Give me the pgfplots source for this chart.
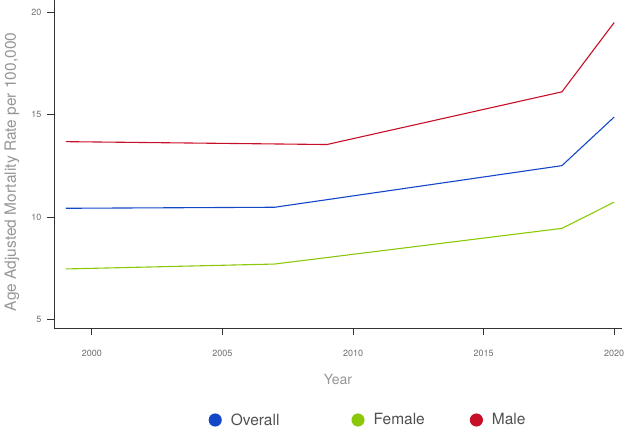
\documentclass[border=0pt]{standalone}
\usepackage{pgfplots}
\pgfplotsset{compat=1.18}
\usepackage{fontspec}
\setmainfont{TeX Gyre Heros}
\definecolor{cOverall}{RGB}{20,70,200}
\definecolor{cFemale}{RGB}{140,200,10}
\definecolor{cMale}{RGB}{200,15,40}
\definecolor{tickgray}{RGB}{110,110,110}
\definecolor{labgray}{RGB}{150,150,150}
\definecolor{leggray}{RGB}{80,80,80}
\begin{document}
\begin{tikzpicture}[x=1pt,y=1pt]
\useasboundingbox (-54,-100) rectangle (575,328);
\begin{axis}[
  scale only axis,
  width=568pt, height=328pt,
  xmin=1998.55, xmax=2020.3,
  ymin=4.6, ymax=20.6,
  axis x line*=bottom, axis y line*=left,
  axis line style={draw=black!80, line width=0.8pt},
  xtick={2000,2005,2010,2015,2020},
  ytick={5,10,15,20},
  xticklabel style={/pgf/number format/1000 sep={}, font=\fontsize{9}{10}\selectfont, text=tickgray, yshift=-12pt},
  yticklabel style={font=\fontsize{9}{10}\selectfont, text=tickgray, xshift=-2pt},
  /pgf/number format/assume math mode=true,
  tick style={draw=black!80, line width=0.8pt},
  tick align=outside,
  major tick length=7pt,
  xlabel={Year}, ylabel={Age Adjusted Mortality Rate per 100,000},
  xlabel style={font=\fontsize{14}{15}\selectfont, text=labgray, at={(axis description cs:0.5,0)}, anchor=center, yshift=-52pt},
  ylabel style={font=\fontsize{15.5}{17}\selectfont, text=labgray, at={(axis description cs:-0.074,0.476)}, anchor=center},
  legend columns=3,
  legend style={draw=none, fill=none, font=\fontsize{15.5}{17}\selectfont, text=leggray, at={(axis description cs:0.553,0)}, anchor=center, yshift=-92pt,
    /tikz/column 2/.style={column sep=70pt}, /tikz/column 4/.style={column sep=43pt}},
  legend cell align=left,
  legend image code/.code={\fill (0pt,0pt) circle (6pt); \path (13pt,0pt);},
]
\addplot[cOverall, line width=1.1pt] coordinates {(1999,10.44) (2007,10.49) (2018,12.52) (2020,14.89)};
\addlegendentry{Overall}
\addplot[cFemale, line width=1.1pt] coordinates {(1999,7.48) (2007,7.72) (2018,9.46) (2020,10.74)};
\addlegendentry{Female}
\addplot[cMale, line width=1.1pt] coordinates {(1999,13.69) (2009,13.55) (2018,16.12) (2020,19.50)};
\addlegendentry{Male}
\end{axis}
\end{tikzpicture}
\end{document}
